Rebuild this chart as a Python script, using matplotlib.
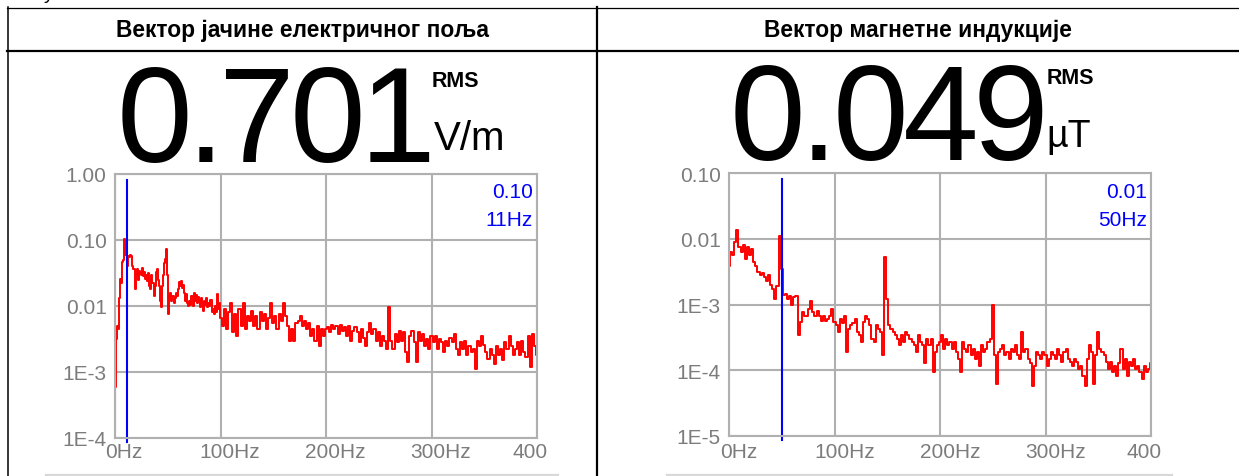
import matplotlib
matplotlib.use('Agg')
import matplotlib.pyplot as plt
from matplotlib.ticker import NullLocator

# ---- podaci ocitani sa slike ----
e_naslov = 'Вектор јачине електричног поља'
b_naslov = 'Вектор магнетне индукције'

e_rms = 0.701
e_jedinica = 'V/m'
b_rms = 0.049
b_jedinica = 'µT'

e_marker_f = 11
e_marker_v = 0.10
b_marker_f = 50
b_marker_v = 0.01

x_ticks = [0, 100, 200, 300, 400]
x_labels = ['0Hz', '100Hz', '200Hz', '300Hz', '400']

e_yticks = [1e-4, 1e-3, 1e-2, 1e-1, 1]
e_ylabels = ['1E-4', '1E-3', '0.01', '0.10', '1.00']
b_yticks = [1e-5, 1e-4, 1e-3, 1e-2, 1e-1]
b_ylabels = ['1E-5', '1E-4', '1E-3', '0.01', '0.10']

# spektar elektricnog polja (1 Hz do 99 Hz, zatim korak 2 Hz)
e_freq = list(range(0, 100)) + list(range(100, 401, 2))
e_vals = [
    0.0006, 0.0032, 0.0050, 0.0045, 0.013, 0.026, 0.022, 0.046, 0.050, 0.104,
    0.060, 0.085, 0.041, 0.058, 0.055, 0.060, 0.058, 0.040, 0.036, 0.018,
    0.030, 0.036, 0.025, 0.034, 0.032, 0.030, 0.038, 0.028, 0.033, 0.026,
    0.029, 0.024, 0.032, 0.020, 0.018, 0.029, 0.022, 0.014, 0.020, 0.033,
    0.036, 0.025, 0.020, 0.012, 0.0095, 0.020, 0.030, 0.045, 0.052, 0.073,
    0.030, 0.0075, 0.014, 0.016, 0.012, 0.014, 0.011, 0.013, 0.016, 0.014,
    0.018, 0.023, 0.020, 0.024, 0.019, 0.021, 0.016, 0.012, 0.015, 0.011,
    0.010, 0.012, 0.0105, 0.014, 0.010, 0.016, 0.012, 0.0145, 0.011, 0.0135,
    0.012, 0.0095, 0.013, 0.0115, 0.0085, 0.012, 0.0105, 0.013, 0.0095, 0.011,
    0.010, 0.0125, 0.0080, 0.0090, 0.0075, 0.010, 0.0080, 0.015, 0.0090, 0.011,
    # 100 Hz ->
    0.0065, 0.0050, 0.0090, 0.0045, 0.0080, 0.011, 0.0040, 0.0075, 0.0035, 0.0090,
    0.0050, 0.0110, 0.0045, 0.0070, 0.0060, 0.0085, 0.0050, 0.0070, 0.0045, 0.0080,
    0.0060, 0.0075, 0.0045, 0.0065, 0.0110, 0.0055, 0.0070, 0.0045, 0.0075, 0.0060,
    0.0110, 0.0070, 0.0050, 0.0030, 0.0045, 0.0030, 0.0055, 0.0060, 0.0070, 0.0050,
    0.0060, 0.0045, 0.0055, 0.0035, 0.0045, 0.0030, 0.0050, 0.0025, 0.0045, 0.0035,
    0.0045, 0.0048, 0.0040, 0.0052, 0.0045, 0.0050, 0.0038, 0.0052, 0.0042, 0.0048,
    0.0035, 0.0050, 0.0030, 0.0042, 0.0048, 0.0040, 0.0028, 0.0045, 0.0033, 0.0025,
    0.0040, 0.0055, 0.0038, 0.0045, 0.0030, 0.0040, 0.0025, 0.0035, 0.0030, 0.0022,
    0.0095, 0.0030, 0.0022, 0.0038, 0.0028, 0.0042, 0.0030, 0.0040, 0.0020, 0.0014,
    0.0035, 0.0042, 0.0028, 0.0014, 0.0040, 0.0030, 0.0038, 0.0025, 0.0032, 0.0022,
    0.0035, 0.0028, 0.0035, 0.0022, 0.0032, 0.0028, 0.0020, 0.0030, 0.0025, 0.0033,
    0.0028, 0.0038, 0.0022, 0.0018, 0.0028, 0.0022, 0.0030, 0.0018, 0.0025, 0.0020,
    0.0022, 0.0011, 0.0030, 0.0025, 0.0035, 0.0026, 0.0020, 0.0016, 0.0022, 0.0018,
    0.0013, 0.0025, 0.0018, 0.0022, 0.0015, 0.0028, 0.0022, 0.0035, 0.0025, 0.0018,
    0.0022, 0.0028, 0.0018, 0.0030, 0.0020, 0.0017, 0.0035, 0.0012, 0.0038, 0.0025,
    0.0018,
]

# spektar magnetne indukcije (korak 2 Hz)
b_freq = list(range(0, 401, 2))
b_vals = [
    0.0039, 0.0063, 0.0056, 0.0089, 0.0134, 0.0075, 0.0063, 0.0080, 0.0050, 0.0075,
    0.0056, 0.0070, 0.0045, 0.0039, 0.0031, 0.0028, 0.0030, 0.0026, 0.0023, 0.0028,
    0.0020, 0.0017, 0.0012, 0.0019, 0.0112, 0.0035, 0.0014, 0.00145, 0.0012, 0.00137,
    0.00097, 0.0013, 0.00137, 0.00034, 0.00054, 0.00077, 0.00068, 0.00068, 0.00086, 0.00115,
    0.00076, 0.00068, 0.00081, 0.00068, 0.00057, 0.00068, 0.00057, 0.00060, 0.00068, 0.00086,
    0.00054, 0.00048, 0.00038, 0.00060, 0.00052, 0.00068, 0.00019, 0.00043, 0.00048, 0.00052,
    0.00060, 0.00038, 0.00034, 0.00027, 0.00054, 0.00068, 0.00060, 0.00048, 0.00030, 0.00027,
    0.00048, 0.00043, 0.00038, 0.00017, 0.0053, 0.0012, 0.00048, 0.00043, 0.00038, 0.00034,
    0.00030, 0.00024, 0.00034, 0.00027, 0.00038, 0.00034, 0.00030, 0.00027, 0.00024, 0.00019,
    0.00034, 0.00027, 0.00024, 0.00013, 0.00030, 0.00024, 0.00030, 0.000093, 0.00019, 0.00024,
    0.00027, 0.00034, 0.00021, 0.00030, 0.00024, 0.00027, 0.00021, 0.00027, 0.00019, 0.00015,
    0.000093, 0.00027, 0.00021, 0.00019, 0.00024, 0.00017, 0.00021, 0.00015, 0.00019, 0.000118,
    0.00024, 0.00019, 0.00021, 0.00027, 0.00030, 0.00097, 0.00017, 0.000062, 0.00019, 0.00021,
    0.00024, 0.00017, 0.00019, 0.00015, 0.00021, 0.00019, 0.00024, 0.00017, 0.00015, 0.00038,
    0.00019, 0.00021, 0.00015, 0.00013, 0.000058, 0.000118, 0.00019, 0.00017, 0.00015, 0.00019,
    0.00017, 0.000118, 0.00015, 0.00019, 0.00017, 0.00015, 0.00021, 0.00017, 0.000132, 0.00019,
    0.00021, 0.00015, 0.000132, 0.000118, 0.00015, 0.000132, 0.000105, 0.000118, 0.000083, 0.000058,
    0.00015, 0.00024, 0.00019, 0.000062, 0.00017, 0.00038, 0.00021, 0.00019, 0.00017, 0.000132,
    0.000105, 0.000132, 0.000093, 0.000118, 0.000083, 0.00013, 0.00021, 0.000105, 0.00015, 0.000083,
    0.000132, 0.000118, 0.00015, 0.000105, 0.000118, 0.000093, 0.000074, 0.000118, 0.000093, 0.000105,
    0.00013,
]

W, H = 1239, 477
SIVA = '#b0b0b0'
TEKST_SIVI = '#7c7c7c'
FONT = 'Liberation Sans'

fig = plt.figure(figsize=(W / 100, H / 100), dpi=100)

# pozadina u pikselima (tabela iz Word-a)
bg = fig.add_axes([0, 0, 1, 1])
bg.set_xlim(0, W)
bg.set_ylim(H, 0)
bg.axis('off')

bg.plot([7, W], [8.5, 8.5], color='black', lw=0.9)
bg.plot([7, W], [52, 52], color='black', lw=1.6)
bg.plot([7.5, 7.5], [8, H], color='black', lw=1.1)
bg.plot([597, 597], [8, H], color='black', lw=1.6)
bg.plot([46, 558], [476, 476], color='#d8d8d8', lw=1.6)
bg.plot([667, 1172], [476, 476], color='#d8d8d8', lw=1.6)
bg.text(44, -1, 'у', fontsize=14, family=['Liberation Sans', 'DejaVu Sans'], va='baseline')

bg.text(302, 30, e_naslov, ha='center', va='center', fontsize=16.4,
        fontweight='bold', family=['Liberation Sans', 'DejaVu Sans'])
bg.text(918, 30, b_naslov, ha='center', va='center', fontsize=16.4,
        fontweight='bold', family=['Liberation Sans', 'DejaVu Sans'])

# velike RMS vrijednosti - cifre su u originalu gusce slozene,
# pa se svaka cifra postavlja posebno (sirine iz metrike fonta)
VEL_FS = 98
TRACK = 0.04
SIRINA = {'.': 0.278}


def veliki_broj(x0, y, s):
    em = VEL_FS * 100 / 72
    x = x0
    for ch in s:
        bg.text(x, y, ch, fontsize=VEL_FS, family=FONT, va='baseline', ha='left')
        x += (SIRINA.get(ch, 0.556) - TRACK) * em


veliki_broj(116.3, 162, f'{e_rms:.3f}')
bg.text(432, 87, 'RMS', fontsize=15.5, fontweight='bold', family=FONT, va='baseline')
bg.text(434, 150, e_jedinica, fontsize=29, family=FONT, va='baseline')

veliki_broj(729.8, 160, f'{b_rms:.3f}')
bg.text(1047, 84, 'RMS', fontsize=15.5, fontweight='bold', family=FONT, va='baseline')
bg.text(1046, 147, b_jedinica, fontsize=27, family=FONT, va='baseline')


def crtaj(rect, freq, vals, yticks, ylabels, mf, mv, xdx, xdy):
    ax = fig.add_axes(rect)
    ax.plot(freq, vals, color='#ff0000', lw=1.4, drawstyle='steps-mid')
    ax.set_yscale('log')
    ax.set_ylim(yticks[0], yticks[-1])
    ax.set_xlim(x_ticks[0], x_ticks[-1])
    ax.set_yticks(yticks)
    ax.set_yticklabels(ylabels)
    ax.yaxis.set_minor_locator(NullLocator())
    ax.set_xticks(x_ticks)
    ax.set_xticklabels([])
    ax.grid(True, color=SIVA, lw=1.5)
    ax.set_axisbelow(True)
    for s in ax.spines.values():
        s.set_color(SIVA)
        s.set_linewidth(1.5)
    ax.tick_params(length=0, labelsize=15, labelcolor=TEKST_SIVI, pad=6)
    for lbl in ax.get_yticklabels():
        lbl.set_family(FONT)

    for f, t in zip(x_ticks, x_labels):
        if f == x_ticks[-1]:
            ax.annotate(t, xy=(f, 0), xycoords=('data', 'axes fraction'),
                        xytext=(11, xdy), textcoords='offset pixels',
                        ha='right', va='center', fontsize=15, color=TEKST_SIVI, family=FONT)
        else:
            ax.annotate(t, xy=(f, 0), xycoords=('data', 'axes fraction'),
                        xytext=(xdx, xdy), textcoords='offset pixels',
                        ha='center', va='center', fontsize=15, color=TEKST_SIVI, family=FONT)

    visina = rect[3] * H
    ax.axvline(mf, ymin=-4 / visina, ymax=1 - 6 / visina, color='#0000ff', lw=1.5, clip_on=False)
    ax.annotate(f'{mv:.2f}', xy=(1, 1), xycoords='axes fraction', xytext=(-4, -18),
                textcoords='offset pixels', ha='right', va='center',
                fontsize=15, color='#0000ff', family=FONT)
    ax.annotate(f'{mf}Hz', xy=(1, 1), xycoords='axes fraction', xytext=(-4, -46),
                textcoords='offset pixels', ha='right', va='center',
                fontsize=15, color='#0000ff', family=FONT)
    return ax


crtaj([115 / W, (H - 439) / H, 422 / W, 264 / H], e_freq, e_vals,
      e_yticks, e_ylabels, e_marker_f, e_marker_v, 9, -14)
crtaj([729 / W, (H - 437) / H, 422 / W, 263 / H], b_freq, b_vals,
      b_yticks, b_ylabels, b_marker_f, b_marker_v, 10, -16)

fig.savefig('out.png', dpi=100)
